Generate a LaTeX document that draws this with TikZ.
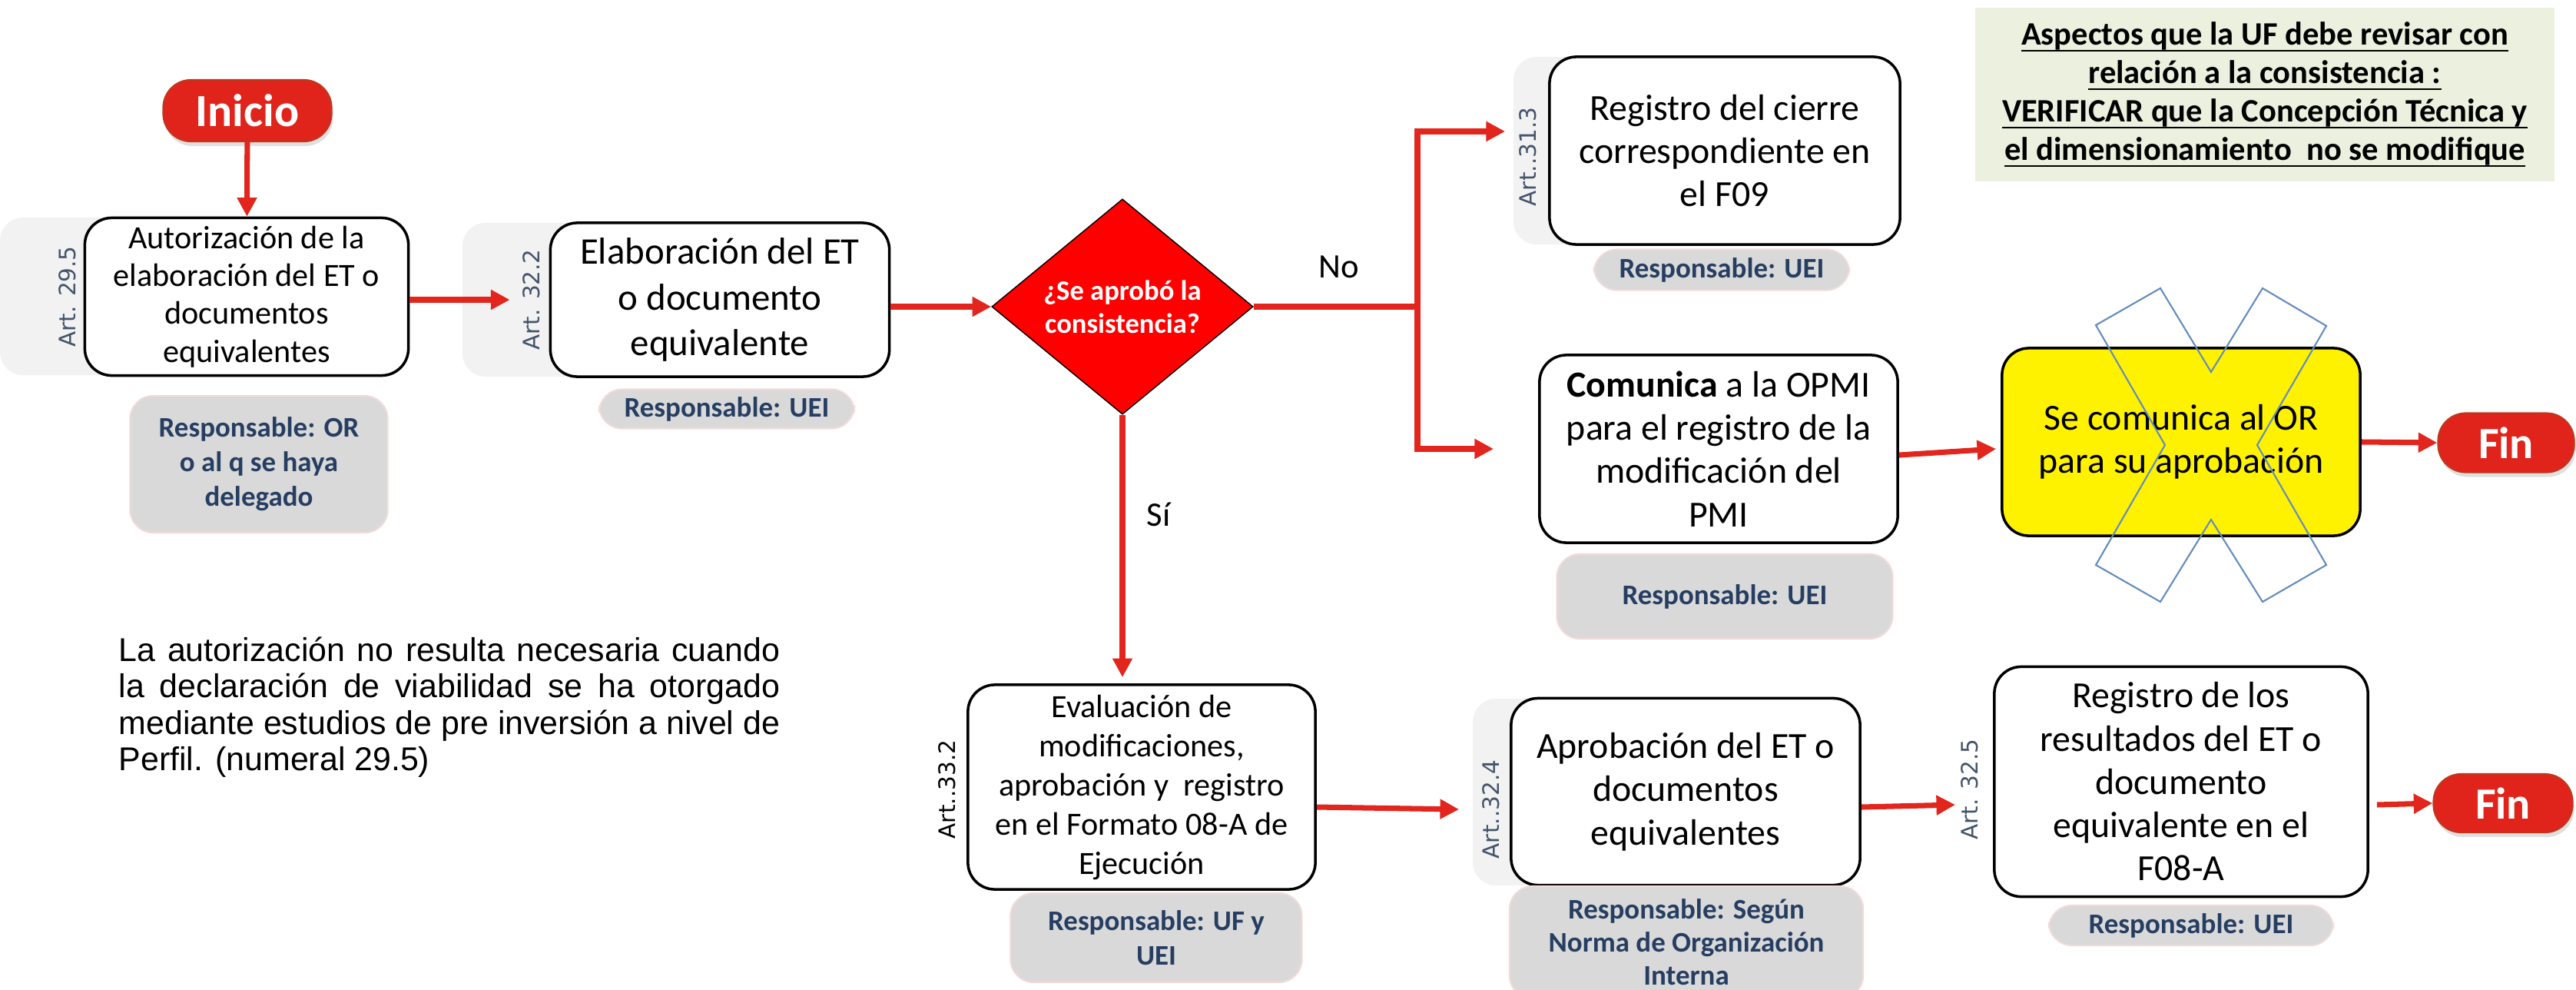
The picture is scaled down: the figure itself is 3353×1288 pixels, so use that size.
\documentclass[tikz,border=0pt]{standalone}
\usepackage{fontspec}
\setmainfont{Carlito}
\newfontfamily\artfont{DejaVu Sans}
\newfontfamily\notefont{Liberation Sans}
\usetikzlibrary{arrows.meta,shapes.geometric,shadows}

\definecolor{flowred}{RGB}{226,37,29}
\definecolor{termred}{RGB}{224,36,27}
\definecolor{termedge}{RGB}{190,55,30}
\definecolor{panelgray}{RGB}{242,242,242}
\definecolor{respgray}{RGB}{217,217,217}
\definecolor{respedge}{RGB}{242,218,218}
\definecolor{respblue}{RGB}{38,62,98}
\definecolor{artblue}{RGB}{68,84,106}
\definecolor{notegreen}{RGB}{235,241,222}
\definecolor{crossblue}{RGB}{100,140,190}

\newcommand{\undl}[1]{\setbox0\hbox{#1}\rlap{\rule[-2.4pt]{\wd0}{0.7pt}}\box0}

\tikzset{
  stepbox/.style={draw=black, line width=1pt, fill=white, rounded corners=0.35cm,
    align=center, inner sep=0pt, font=\fontsize{13.6}{16}\selectfont},
  resp/.style={draw=respedge, line width=0.6pt, fill=respgray, rounded corners=0.3cm,
    align=center, inner sep=0pt, text=respblue, font=\bfseries\fontsize{10.5}{12.8}\selectfont},
  artlabel/.style={rotate=90, text=artblue, inner sep=0pt, font=\artfont\fontsize{8.4}{9}\selectfont},
  term/.style={rounded corners=0.36cm, fill=termred, draw=termedge, line width=0.6pt, text=white,
    inner sep=0pt, font=\bfseries\fontsize{17}{20}\selectfont,
    drop shadow={opacity=0.25, shadow xshift=0.02cm, shadow yshift=-0.06cm}},
  flow/.style={draw=flowred, line width=2pt, -{Triangle[length=7pt,width=7pt]}},
}

\begin{document}
\begin{tikzpicture}[x=0.01cm, y=-0.01cm]
\useasboundingbox (0,0) rectangle (3353,1288);

% grey panels behind the article numbers
\fill[panelgray, rounded corners=0.3cm] (0,283) rectangle (180,488);
\fill[panelgray, rounded corners=0.3cm] (602,290) rectangle (780,490);
\fill[panelgray, rounded corners=0.3cm] (1970,74) rectangle (2080,318);
\fill[panelgray, rounded corners=0.3cm] (1917,909) rectangle (2030,1152);

% steps
\node[term, minimum width=2.19cm, minimum height=0.8cm] (inicio) at (322,144) {Inicio};
\node[stepbox, minimum width=4.21cm, minimum height=2.05cm, font=\fontsize{12}{14}\selectfont] (auth) at (321,386)
  {Autorización de la\\elaboración del ET o\\documentos\\equivalentes};
\node[stepbox, minimum width=4.41cm, minimum height=2.0cm, font=\fontsize{13.9}{17}\selectfont] (elab) at (937,390)
  {Elaboración del ET\\o documento\\equivalente};
\node[diamond, aspect=1.21, fill=red, draw=black, inner sep=0pt, minimum width=3.4cm, minimum height=2.8cm,
  align=center, text=white, font=\bfseries\fontsize{10.4}{12.2}\selectfont] (dec) at (1461,399)
  {¿Se aprobó la\\consistencia?};
\node[stepbox, minimum width=4.56cm, minimum height=2.44cm] (cierre) at (2245,196)
  {Registro del cierre\\correspondiente en\\el F09};
\node[stepbox, minimum width=4.66cm, minimum height=2.44cm] (comunica) at (2237,584)
  {\textbf{Comunica} a la OPMI\\para el registro de la\\modificación del\\PMI};
\node[stepbox, fill=yellow, minimum width=4.66cm, minimum height=2.44cm] (aprobOR) at (2839,575)
  {Se comunica al OR\\para su aprobación};
\node[term, minimum width=1.77cm, minimum height=0.77cm, font=\bfseries\fontsize{16.5}{20}\selectfont] (fin1) at (3262,576) {Fin};
\node[stepbox, minimum width=4.52cm, minimum height=2.66cm, font=\fontsize{12}{14.5}\selectfont] (eval) at (1486,1024)
  {Evaluación de\\modificaciones,\\aprobación y\ \ registro\\en el Formato 08-A de\\Ejecución};
\node[stepbox, minimum width=4.54cm, minimum height=2.43cm] (aprobET) at (2194,1030)
  {Aprobación del ET o\\documentos\\equivalentes};
\node[stepbox, minimum width=4.86cm, minimum height=2.99cm] (regres) at (2839,1017)
  {Registro de los\\resultados del ET o\\documento\\equivalente en el\\F08-A};
\node[term, minimum width=1.81cm, minimum height=0.76cm, font=\bfseries\fontsize{16.5}{20}\selectfont] (fin2) at (3258,1045) {Fin};

% who is responsible
\node[resp, minimum width=3.35cm, minimum height=1.78cm] (respA) at (337,604) {Responsable: OR\\o al q se haya\\delegado};
\node[resp, minimum width=3.32cm, minimum height=0.51cm] (respB) at (946,532) {Responsable: UEI};
\node[resp, minimum width=3.32cm, minimum height=0.53cm] (respC) at (2241,351) {Responsable: UEI};
\node[resp, minimum width=4.37cm, minimum height=1.10cm] (respD) at (2245,776) {Responsable: UEI};
\node[resp, minimum width=3.79cm, minimum height=1.16cm] (respE) at (1505,1220) {Responsable: UF y\\UEI};
\node[resp, minimum width=4.60cm, minimum height=1.46cm, font=\bfseries\fontsize{10.5}{12.2}\selectfont] (respF) at (2195,1226)
  {Responsable: Según\\Norma de Organización\\Interna};
\node[resp, minimum width=3.70cm, minimum height=0.52cm] (respG) at (2852,1204) {Responsable: UEI};

% article numbers
\node[artlabel] (art295) at (88,386) {Art. 29.5};
\node[artlabel] (art322) at (692,390) {Art. 32.2};
\node[artlabel] (art313) at (1989,204) {Art..31.3};
\node[artlabel, text=black] (art332) at (1233,1027) {Art..33.2};
\node[artlabel] (art324) at (1941,1053) {Art..32.4};
\node[artlabel] (art325) at (2564,1027) {Art. 32.5};

% crossed-out step
\draw[crossblue, line width=0.6pt] (2812,375) -- (2878,484) -- (2945,375) -- (3028,424) -- (2938,579)
  -- (3028,735) -- (2945,783) -- (2878,676) -- (2812,783) -- (2728,735) -- (2818,579) -- (2728,423) -- cycle;

% notes
\node[fill=notegreen, minimum width=7.54cm, minimum height=2.26cm, align=center,
  font=\bfseries\fontsize{12.1}{14.2}\selectfont] (aspectos) at (2948,123)
  {\undl{Aspectos que la UF debe revisar con}\\\undl{relación a la consistencia :}\\
   \undl{VERIFICAR que la Concepción Técnica y}\\\undl{el dimensionamiento\ \ no se modifique}};
\node[text width=8.6cm, align=justify, inner sep=0pt, font=\notefont\fontsize{12.2}{13.5}\selectfont] (nota) at (585,920)
  {La autorización no resulta necesaria cuando\linebreak la declaración de viabilidad se ha otorgado\linebreak
   mediante estudios de pre inversión a nivel de\linebreak Perfil. (numeral 29.5)};

% connectors
\coordinate (split) at (1845,399);
\draw[flow] (inicio) -- (auth);
\draw[flow, shorten >=0.51cm] (auth.east |- elab.west) -- (elab.west);
\draw[flow] (elab.east |- dec.west) -- (dec.west);
\draw[flow] (dec.east) -- (split) |- ([xshift=-0.56cm, yshift=0.25cm]cierre.west);
\draw[flow] (split) |- ([xshift=-0.58cm]comunica.west);
\draw[flow, shorten >=0.08cm] (dec.south) -- (dec.south |- eval.north);
\draw[flow] ([yshift=-0.26cm]eval.east) -- ([xshift=-0.66cm, yshift=-0.23cm]aprobET.west);
\draw[flow] ([yshift=-0.2cm]aprobET.east) -- ([xshift=-0.49cm, yshift=-0.3cm]regres.west);
\draw[flow] ([xshift=0.1cm, yshift=-0.3cm]regres.east) -- (fin2.west);
\draw[flow] ([yshift=-0.08cm]comunica.east) -- ([xshift=-0.06cm, yshift=-0.09cm]aprobOR.west);
\draw[flow] (aprobOR.east) -- (fin1.west);

% branch labels
\node[font=\fontsize{12.7}{15}\selectfont] (no) at (1743,347) {No};
\node[font=\fontsize{12.7}{15}\selectfont] (si) at (1508,669) {Sí};
\end{tikzpicture}
\end{document}
